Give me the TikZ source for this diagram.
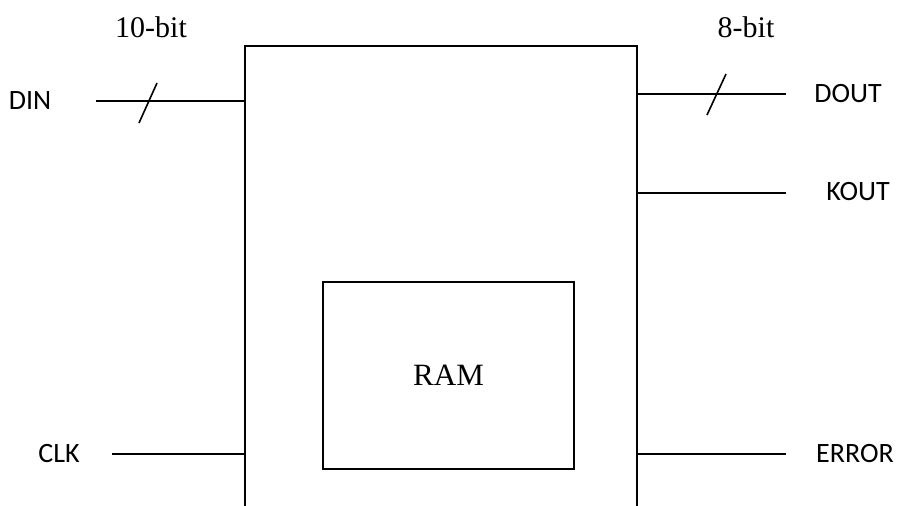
\documentclass[tikz,border=0pt]{standalone}
\usepackage{fontspec}
\setmainfont{Liberation Serif}
\newfontfamily\pinfont{Carlito}
\usetikzlibrary{positioning}

\tikzset{
  pinlabel/.style={font=\pinfont\fontsize{28}{30}\selectfont,inner sep=0pt},
  buslabel/.style={font=\fontsize{30}{34}\selectfont,inner sep=0pt},
  blockbox/.style={draw,inner sep=0pt,font=\fontsize{31}{34}\selectfont},
}

\begin{document}
\begin{tikzpicture}[x=1pt,y=-1pt,line width=1.6pt]
\useasboundingbox (0,0) rectangle (897,506);
% outer block, runs off the bottom
\draw (245,506) -- (245,46) -- (637,46) -- (637,506);
\node[blockbox,minimum width=251pt,minimum height=187pt] (ram) at (448.5,375.5) {RAM};
% pins on the block edge
\coordinate (din in) at (245,101);
\coordinate (clk in) at (245,454);
\coordinate (dout out) at (637,94);
\coordinate (kout out) at (637,193);
\coordinate (error out) at (637,454);
% free ends of the wires
\coordinate (din end) at (96,101);
\coordinate (clk end) at (112,454);
\coordinate (dout end) at (786,94);
\coordinate (kout end) at (786,193);
\coordinate (error end) at (786,454);
% labels
\node[pinlabel] (din) at (30,101) {DIN};
\node[pinlabel] (clk) at (59,454) {CLK};
\node[pinlabel] (dout) at (848,94) {DOUT};
\node[pinlabel] (kout) at (858,192) {KOUT};
\node[pinlabel] (error) at (855,454) {ERROR};
\node[buslabel] (din width) at (151,27) {10-bit};
\node[buslabel] (dout width) at (746,27) {8-bit};
% wires
\draw (din end) -- (din in);
\draw (clk end) -- (clk in);
\draw (dout out) -- (dout end);
\draw (kout out) -- (kout end);
\draw (error out) -- (error end);
% bus ticks
\coordinate (din tick) at (148,101);
\coordinate (dout tick) at (716.5,94);
\draw ([shift={(-9,22)}]din tick) -- ([shift={(9,-18)}]din tick);
\draw ([shift={(-9.5,21)}]dout tick) -- ([shift={(9.5,-20)}]dout tick);
\end{tikzpicture}
\end{document}
